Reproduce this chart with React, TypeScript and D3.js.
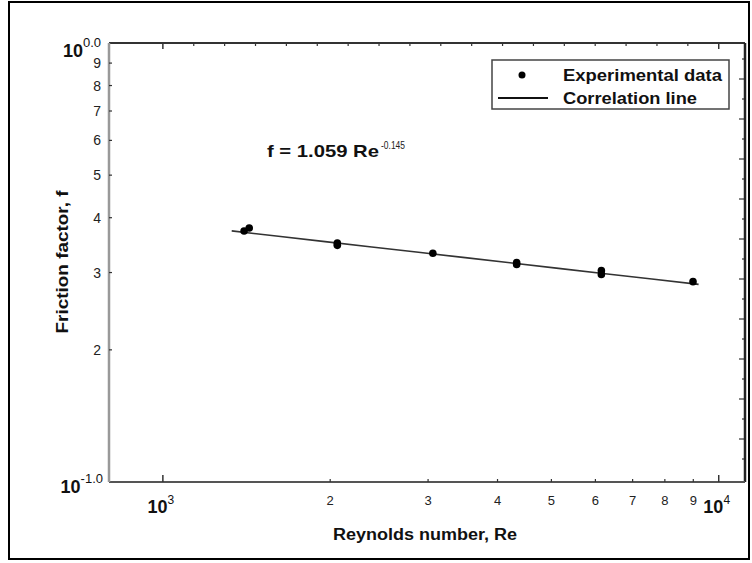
import React from "react";
import * as d3 from "d3";

// ---- data ----
const reynolds = [1400, 1430, 2060, 2060, 3060, 4330, 4330, 6150, 6150, 8990];
const friction = [0.373, 0.379, 0.346, 0.350, 0.332, 0.313, 0.316, 0.297, 0.303, 0.286];
const fitCoeff = 1.059;
const fitExp = -0.145;
const fitRange = [1330, 9200];
const xMinorTicks = [2000, 3000, 4000, 5000, 6000, 7000, 8000, 9000];
const xMinorLabels = ["2", "3", "4", "5", "6", "7", "8", "9"];
const xMajorTicks = [1000, 10000];
const xMajorExp = ["3", "4"];
const yMinorTicks = [0.2, 0.3, 0.4, 0.5, 0.6, 0.7, 0.8, 0.9];
const yMinorLabels = ["2", "3", "4", "5", "6", "7", "8", "9"];
const legendLabels = ["Experimental data", "Correlation line"];

const W = 752, H = 563;
const L = 109, R = 745, T = 43, B = 482;
const FONT = "'Liberation Sans', Arial, sans-serif";
const NARROW = "'Liberation Sans Narrow', 'Liberation Sans', Arial, sans-serif";

export default function App() {
  const x = d3.scaleLog().domain([800, 11150]).range([L, R]);
  const y = d3.scaleLog().domain([0.1, 1]).range([B, T]);

  const fitPts = d3.range(0, 11).map((i) => {
    const re = fitRange[0] * Math.pow(fitRange[1] / fitRange[0], i / 10);
    return [re, fitCoeff * Math.pow(re, fitExp)] as [number, number];
  });
  const line = d3.line<[number, number]>().x((d) => x(d[0])).y((d) => y(d[1]));

  const topTicks = d3.range(1, 18).map((k) => x(1000) + (k * (x(10000) - x(1000))) / 18);
  const rightTicks = d3.range(0, 22).map((k) => 59 + k * 20);

  return (
    <div style={{ position: "absolute", left: 0, top: 0 }}>
      <svg width={W} height={H} style={{ display: "block", background: "#fff" }}>
        <rect x={9} y={2} width={740} height={557} fill="none" stroke="#000" strokeWidth={2} />

        {/* top ticks */}
        {topTicks.map((tx, i) => (
          <line key={"tt" + i} x1={tx} x2={tx} y1={T} y2={T + 3} stroke="#333" strokeWidth={1.2} />
        ))}
        {xMajorTicks.map((v, i) => (
          <line key={"tm" + i} x1={x(v)} x2={x(v)} y1={T} y2={T + 6} stroke="#333" strokeWidth={1.5} />
        ))}
        {/* right ticks */}
        {rightTicks.filter((ty) => ty < B - 5).map((ty, i) => (
          <line key={"rt" + i} x1={R} x2={R - (i % 2 === 1 ? 6 : 3)} y1={ty} y2={ty} stroke="#333" strokeWidth={1.2} />
        ))}

        {/* axes frame */}
        <line x1={L} x2={R} y1={T} y2={T} stroke="#333" strokeWidth={2} />
        <line x1={R} x2={R} y1={T} y2={B} stroke="#222" strokeWidth={2.5} />
        <line x1={L} x2={R} y1={B} y2={B} stroke="#555" strokeWidth={2} />
        <line x1={L} x2={L} y1={T} y2={B} stroke="#999" strokeWidth={2.5} />

        {/* x ticks & labels */}
        {xMinorTicks.map((v, i) => (
          <g key={"xm" + i}>
            <line x1={x(v)} x2={x(v)} y1={B} y2={B - 3} stroke="#333" strokeWidth={1.2} />
            <text x={x(v)} y={505} textAnchor="middle" fontFamily={FONT} fontSize={13} fill="#222">
              {xMinorLabels[i]}
            </text>
          </g>
        ))}
        {xMajorTicks.map((v, i) => (
          <g key={"xM" + i}>
            <line x1={x(v)} x2={x(v)} y1={B} y2={B - 7} stroke="#333" strokeWidth={1.5} />
            <text x={x(v) - 2} y={513} textAnchor="middle" fontFamily={FONT} fill="#111">
              <tspan fontSize={18} fontWeight="bold">10</tspan>
              <tspan fontSize={12} dy={-9}>{xMajorExp[i]}</tspan>
            </text>
          </g>
        ))}

        {/* y ticks & labels */}
        {yMinorTicks.map((v, i) => (
          <g key={"ym" + i}>
            <line x1={L} x2={L + 3} y1={y(v)} y2={y(v)} stroke="#333" strokeWidth={1.2} />
            <text x={101} y={y(v) + 5} textAnchor="end" fontFamily={FONT} fontSize={14} fill="#222">
              {yMinorLabels[i]}
            </text>
          </g>
        ))}
        <text x={101} y={y(1) + 14} textAnchor="end" fontFamily={FONT} fill="#111">
          <tspan fontSize={18} fontWeight="bold">10</tspan>
          <tspan fontSize={13} dy={-10}>0.0</tspan>
        </text>
        <text x={103} y={y(0.1) + 11} textAnchor="end" fontFamily={FONT} fill="#111">
          <tspan fontSize={18} fontWeight="bold">10</tspan>
          <tspan fontSize={13} dy={-10}>-1.0</tspan>
        </text>

        {/* axis titles */}
        <text x={425} y={540} textAnchor="middle" fontFamily={NARROW} fontWeight="bold" fontSize={16}
          fill="#111" textLength={184} lengthAdjust="spacingAndGlyphs">
          Reynolds number, Re
        </text>
        <text transform={`translate(68,262) rotate(-90)`} textAnchor="middle" fontFamily={NARROW}
          fontWeight="bold" fontSize={16} fill="#111" textLength={143} lengthAdjust="spacingAndGlyphs">
          Friction factor, f
        </text>

        {/* correlation line */}
        <path d={line(fitPts) || ""} fill="none" stroke="#333" strokeWidth={1.6} />

        {/* data points */}
        {reynolds.map((re, i) => (
          <circle key={"p" + i} cx={x(re)} cy={y(friction[i])} r={3.8} fill="#000" />
        ))}

        {/* equation */}
        <text x={267} y={157} fontFamily={FONT} fontSize={17} fontWeight="bold" fill="#111"
          textLength={112} lengthAdjust="spacingAndGlyphs">
          f = 1.059 Re
        </text>
        <text x={381} y={149} fontFamily={FONT} fontSize={10} fill="#222"
          textLength={24} lengthAdjust="spacingAndGlyphs">
          -0.145
        </text>

        {/* legend */}
        <rect x={492} y={60} width={237} height={49} fill="#fff" stroke="#444" strokeWidth={1.5} />
        <circle cx={522} cy={75} r={3.5} fill="#000" />
        <line x1={498} x2={548} y1={98} y2={98} stroke="#111" strokeWidth={2} />
        <text x={563} y={81} fontFamily={NARROW} fontWeight="bold" fontSize={17} fill="#111"
          textLength={159} lengthAdjust="spacingAndGlyphs">
          {legendLabels[0]}
        </text>
        <text x={563} y={104} fontFamily={NARROW} fontWeight="bold" fontSize={17} fill="#111"
          textLength={134} lengthAdjust="spacingAndGlyphs">
          {legendLabels[1]}
        </text>
      </svg>
    </div>
  );
}
